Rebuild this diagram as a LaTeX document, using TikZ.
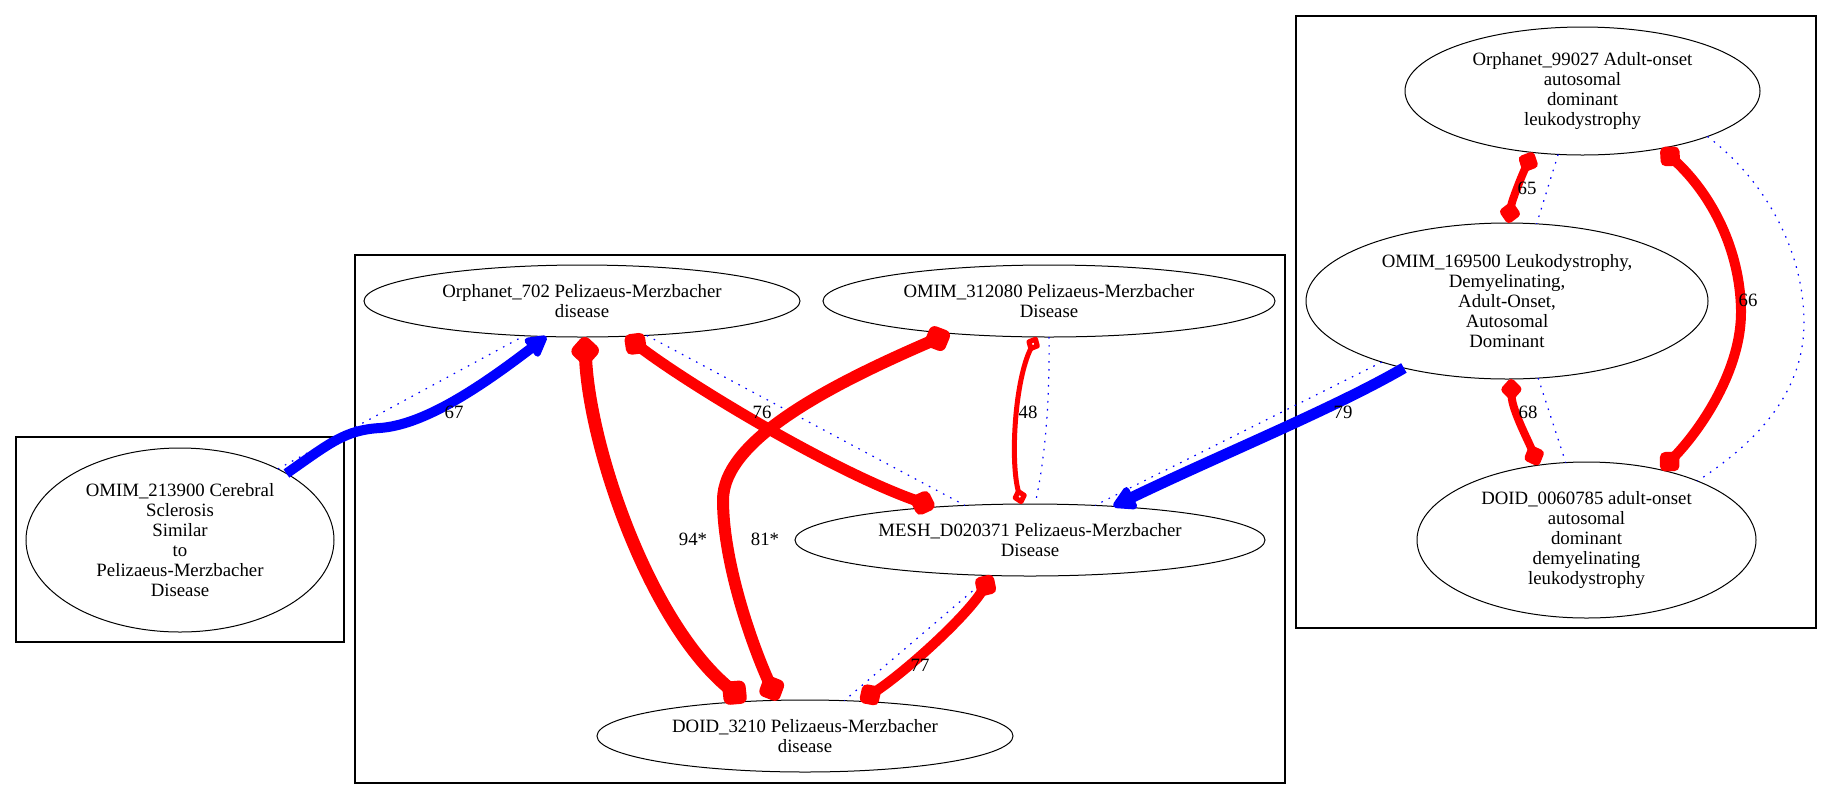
\documentclass[tikz,border=0pt]{standalone}
\usepackage{fontspec}
\setmainfont{Liberation Serif}
\usetikzlibrary{arrows.meta,shapes.geometric}

\begin{document}
\begin{tikzpicture}[x=0.5pt, y=-0.5pt,
            every node/.style={font=\fontsize{9.4}{10}\selectfont},
            term/.style={ellipse, draw, line width=0.5pt, inner sep=0pt, outer sep=0pt, align=center},
            cluster/.style={draw, line width=0.6pt},
            redlink/.style={draw=red, line width=#1, line join=round,
                {Diamond[length=5pt 1.8, width=4pt 1.9, round]}-{Diamond[length=5pt 1.8, width=4pt 1.9, round]}},
            bluelink/.style={draw=blue, line width=#1, line join=round,
                -{Triangle[length=4pt 1.6, width=4pt 1.7, round]}},
            simlink/.style={draw=blue, line width=0.6pt, dash pattern=on 0.8pt off 3.2pt},
            weight/.style={inner sep=0pt}]
            \useasboundingbox ( 0, 0 ) rectangle ( 1832, 799 );

% кластеры
            \draw [cluster] ( 16, 437 ) rectangle ( 344, 642 );
            \draw [cluster] ( 355, 255 ) rectangle ( 1285, 783 );
            \draw [cluster] ( 1296, 16 ) rectangle ( 1816, 628 );

% вершины
            \node [term, minimum width=154pt, minimum height=92pt] (a) at ( 180, 540 )
                {OMIM\_213900 Cerebral\\Sclerosis\\Similar\\to\\Pelizaeus-Merzbacher\\Disease};
            \node [term, minimum width=218pt, minimum height=36pt] (b) at ( 582, 301 )
                {Orphanet\_702 Pelizaeus-Merzbacher\\disease};
            \node [term, minimum width=226pt, minimum height=36pt] (c) at ( 1049, 301 )
                {OMIM\_312080 Pelizaeus-Merzbacher\\Disease};
            \node [term, minimum width=235pt, minimum height=36pt] (d) at ( 1030, 540 )
                {MESH\_D020371 Pelizaeus-Merzbacher\\Disease};
            \node [term, minimum width=208pt, minimum height=36pt] (e) at ( 805, 736 )
                {DOID\_3210 Pelizaeus-Merzbacher\\disease};
            \node [term, minimum width=177.5pt, minimum height=64pt] (f) at ( 1582.5, 91 )
                {Orphanet\_99027 Adult-onset\\autosomal\\dominant\\leukodystrophy};
            \node [term, minimum width=201pt, minimum height=78pt] (g) at ( 1507, 301 )
                {OMIM\_169500 Leukodystrophy,\\Demyelinating,\\Adult-Onset,\\Autosomal\\Dominant};
            \node [term, minimum width=169.5pt, minimum height=78pt] (h) at ( 1586.5, 540 )
                {DOID\_0060785 adult-onset\\autosomal\\dominant\\demyelinating\\leukodystrophy};

% рёбра
            \draw [simlink] (a.36) -- (b.-149);
            \draw [bluelink=5pt] (a.32) .. controls ( 330, 443 ) and ( 345, 430 ) .. ( 380, 428 )
                .. controls ( 420, 425 ) and ( 470, 395 ) .. (b.-135);
            \node [weight] (w67) at ( 454, 412 ) {67};

            \draw [redlink=6.5pt] (b.-86) .. controls ( 590, 450 ) and ( 650, 623 ) .. (e.150);
            \node [weight] (w94) at ( 693, 539 ) {94*};

            \draw [simlink] (b.-28) -- (d.152);
            \draw [redlink=5.5pt] (b.-39) .. controls ( 690, 385 ) and ( 830, 470 ) .. (d.161);
            \node [weight] (w76) at ( 762, 412 ) {76};

            \draw [redlink=6pt] (c.-162) .. controls ( 830, 385 ) and ( 723, 440 ) .. ( 723, 500 )
                .. controls ( 723, 560 ) and ( 750, 640 ) .. (e.128);
            \node [weight] (w81) at ( 765, 539 ) {81*};

            \draw [simlink] (c.-90) .. controls ( 1050, 400 ) and ( 1045, 460 ) .. (d.82);
            \draw [redlink=2.5pt, {Diamond[open, length=9pt, width=8pt, round]}-{Diamond[open, length=9pt, width=8pt, round]}]
                (c.-109) .. controls ( 1015, 380 ) and ( 1010, 460 ) .. (d.103);
            \node [weight] (w48) at ( 1028, 412 ) {48};

            \draw [simlink] (g.-154) -- (d.28);
            \draw [bluelink=5.5pt] (g.-147) .. controls ( 1335, 408 ) and ( 1220, 455 ) .. (d.22);
            \node [weight] (w79) at ( 1343, 412 ) {79};

            \draw [simlink] (d.-138) -- (e.42);
            \draw [redlink=5pt] (d.-137) .. controls ( 965, 618 ) and ( 905, 672 ) .. (e.32);
            \node [weight] (w77) at ( 920, 665 ) {77};

            \draw [simlink] (f.-111) -- (g.69);
            \draw [redlink=4pt] (f.-129) .. controls ( 1522, 175 ) and ( 1512, 200 ) .. (g.89);
            \node [weight] (w65) at ( 1527, 188 ) {65};

            \draw [simlink] (f.-20) .. controls ( 1765, 180 ) and ( 1803, 250 ) .. ( 1804, 320 )
                .. controls ( 1805, 390 ) and ( 1760, 440 ) .. (h.28);
            \draw [redlink=5pt] (f.-36) .. controls ( 1712, 195 ) and ( 1740, 250 ) .. ( 1741, 310 )
                .. controls ( 1742, 370 ) and ( 1700, 430 ) .. (h.43);
            \node [weight] (w66) at ( 1748, 300 ) {66};

            \draw [simlink] (g.-68) -- (h.105);
            \draw [redlink=4pt] (g.-87) .. controls ( 1512, 410 ) and ( 1528, 440 ) .. (h.123);
            \node [weight] (w68) at ( 1528, 412 ) {68};
        \end{tikzpicture}
\end{document}
